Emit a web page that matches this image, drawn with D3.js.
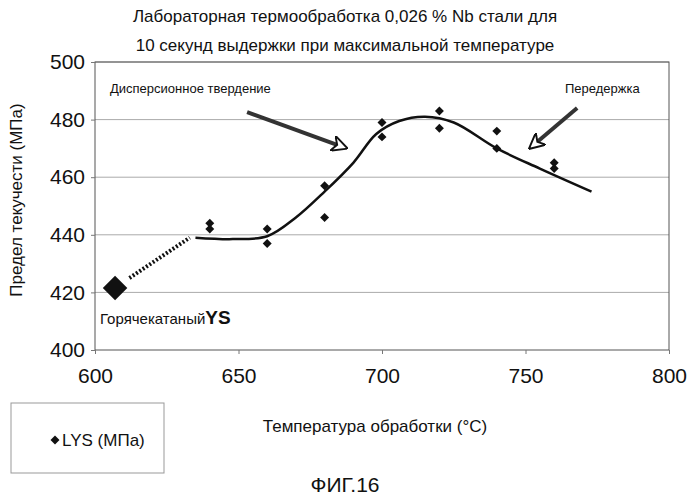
<!DOCTYPE html>
<html><head><meta charset="utf-8">
<script src="https://cdn.jsdelivr.net/npm/d3@7"></script>
<style>body{margin:0;background:#fff}text{font-family:"Liberation Sans",Arial,sans-serif;fill:#111}</style>
</head><body><svg id="c" width="690" height="500"></svg>
<script>
// measured data
var temps = [640, 640, 660, 660, 680, 680, 700, 700, 720, 720, 740, 740, 760, 760];
var lys = [444, 442, 442, 437, 457, 446, 479, 474, 483, 477, 476, 470, 465, 463];
var hotRolled = [607, 421.5];
var trendT = [635, 648, 660, 670, 680, 690, 698, 706, 715, 725, 740, 755, 773];
var trendY = [439, 438.5, 439.5, 446, 455, 465, 475, 479.5, 481, 479, 470, 463, 455];
var dotted = [[612, 425], [633, 439]];
var xTicks = [600, 650, 700, 750, 800];
var yTicks = [400, 420, 440, 460, 480, 500];

var svg = d3.select("#c");
var x = d3.scaleLinear().domain([600, 800]).range([95, 669]);
var y = d3.scaleLinear().domain([400, 500]).range([350, 62]);

// gridlines
svg.selectAll(".g").data(yTicks.slice(1)).enter().append("line")
  .attr("x1", 95).attr("x2", 669).attr("y1", d => y(d)).attr("y2", d => y(d))
  .attr("stroke", "#aaa").attr("stroke-width", 1);
svg.append("rect").attr("x", 95).attr("y", 62).attr("width", 574).attr("height", 288)
  .attr("fill", "none").attr("stroke", "#555");

var ya = svg.append("g").attr("transform", "translate(95,0)")
  .call(d3.axisLeft(y).tickValues(yTicks).tickSize(4).tickPadding(6));
var xa = svg.append("g").attr("transform", "translate(0,350)")
  .call(d3.axisBottom(x).tickValues(xTicks).tickSize(4).tickPadding(14));
[ya, xa].forEach(a => { a.select(".domain").remove(); a.selectAll("line").attr("stroke", "#777");
  a.selectAll("text").attr("font-size", 21).style("font-family", "Liberation Sans"); });

// trend
svg.append("path").datum(trendT.map((t, i) => [t, trendY[i]]))
  .attr("d", d3.line().x(d => x(d[0])).y(d => y(d[1])).curve(d3.curveCatmullRom))
  .attr("fill", "none").attr("stroke", "#111").attr("stroke-width", 2.5);
svg.append("path").datum(dotted)
  .attr("d", d3.line().x(d => x(d[0])).y(d => y(d[1])))
  .attr("stroke", "#111").attr("stroke-width", 4).attr("stroke-dasharray", "2,2");

var sq = d3.symbol().type(d3.symbolSquare);
svg.selectAll(".p").data(temps).enter().append("path")
  .attr("transform", (d, i) => "translate(" + x(d) + "," + y(lys[i]) + ") rotate(45)")
  .attr("d", sq.size(40)).attr("fill", "#111");
svg.append("path").attr("transform", "translate(" + x(hotRolled[0]) + "," + y(hotRolled[1]) + ") rotate(45)")
  .attr("d", sq.size(300)).attr("fill", "#111");

// arrows
var defs = svg.append("defs");
defs.append("marker").attr("id", "ah").attr("viewBox", "0 0 10 10").attr("refX", 8).attr("refY", 5)
  .attr("markerWidth", 4).attr("markerHeight", 4).attr("orient", "auto")
  .append("path").attr("d", "M0,0L10,5L0,10L3,5z").attr("fill", "#fff").attr("stroke", "#111").attr("stroke-width", 1.2);
function arrow(a, b) {
  svg.append("line").attr("x1", x(a[0])).attr("y1", y(a[1])).attr("x2", x(b[0])).attr("y2", y(b[1]))
    .attr("stroke", "#333").attr("stroke-width", 4).attr("marker-end", "url(#ah)");
}
arrow([653, 482.6], [687, 470.3]);
arrow([768, 484], [752, 470.5]);

svg.append("text").attr("x", 110).attr("y", 93).attr("font-size", 13).text("Дисперсионное твердение");
svg.append("text").attr("x", 565).attr("y", 93).attr("font-size", 13).text("Передержка");
var hr = svg.append("text").attr("x", 100).attr("y", 324).attr("font-size", 15);
hr.append("tspan").text("Горячекатаный");
hr.append("tspan").attr("font-size", 19).attr("font-weight", "bold").text("YS");

svg.append("text").attr("x", 345).attr("y", 22).attr("text-anchor", "middle").attr("font-size", 17)
  .text("Лабораторная термообработка 0,026 % Nb стали для");
svg.append("text").attr("x", 345).attr("y", 51).attr("text-anchor", "middle").attr("font-size", 17)
  .text("10 секунд выдержки при максимальной температуре");
svg.append("text").attr("transform", "translate(22,200) rotate(-90)").attr("text-anchor", "middle")
  .attr("font-size", 17).text("Предел текучести (МПа)");
svg.append("text").attr("x", 375).attr("y", 432).attr("text-anchor", "middle").attr("font-size", 17)
  .text("Температура обработки (°C)");

svg.append("rect").attr("x", 11).attr("y", 403).attr("width", 153).attr("height", 70)
  .attr("fill", "none").attr("stroke", "#999");
svg.append("path").attr("transform", "translate(55,440) rotate(45)").attr("d", sq.size(40)).attr("fill", "#111");
svg.append("text").attr("x", 62).attr("y", 446).attr("font-size", 17).text("LYS (МПа)");

svg.append("text").attr("x", 345).attr("y", 492).attr("text-anchor", "middle").attr("font-size", 21).text("ФИГ.16");
</script></body></html>
